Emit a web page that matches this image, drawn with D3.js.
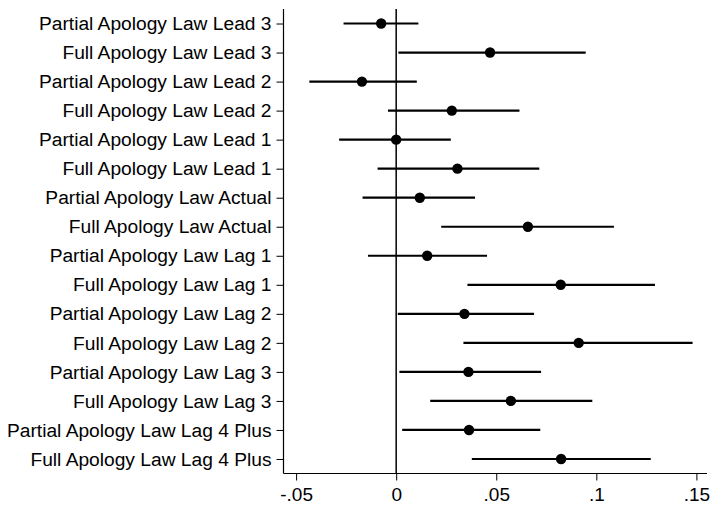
<!DOCTYPE html>
<html>
<head>
<meta charset="utf-8">
<script src="https://cdn.jsdelivr.net/npm/d3@7"></script>
<style>
  html, body { margin: 0; padding: 0; background: #fff; }
  svg { display: block; }
  text { font-family: "Liberation Sans", Arial, Helvetica, sans-serif; fill: #000; }
</style>
</head>
<body>
<div id="chart"></div>
<script>
const categories = [
  "Partial Apology Law Lead 3",
  "Full Apology Law Lead 3",
  "Partial Apology Law Lead 2",
  "Full Apology Law Lead 2",
  "Partial Apology Law Lead 1",
  "Full Apology Law Lead 1",
  "Partial Apology Law Actual",
  "Full Apology Law Actual",
  "Partial Apology Law Lag 1",
  "Full Apology Law Lag 1",
  "Partial Apology Law Lag 2",
  "Full Apology Law Lag 2",
  "Partial Apology Law Lag 3",
  "Full Apology Law Lag 3",
  "Partial Apology Law Lag 4 Plus",
  "Full Apology Law Lag 4 Plus"
];
const estimates = [-0.0075, 0.0469, -0.0171, 0.0278, 0.0000, 0.0306, 0.0118, 0.0658,
                   0.0155, 0.0822, 0.0341, 0.0912, 0.0361, 0.0573, 0.0364, 0.0824];
const lower     = [-0.0263, 0.0011, -0.0434, -0.0041, -0.0285, -0.0093, -0.0168, 0.0225,
                   -0.0141, 0.0356, 0.0008, 0.0336, 0.0016, 0.0170, 0.0030, 0.0378];
const upper     = [0.0111, 0.0947, 0.0103, 0.0616, 0.0273, 0.0715, 0.0394, 0.1088,
                   0.0454, 0.1293, 0.0689, 0.1481, 0.0724, 0.0980, 0.0720, 0.1272];
const xTicks = [-0.05, 0, 0.05, 0.1, 0.15];
const xTickLabels = ["-.05", "0", ".05", ".1", ".15"];

(function () {
const W = 710, H = 509;
const pLeft = 283.5, pRight = 707, pTop = 9, pBottom = 473.5;

const svg = d3.select("#chart").append("svg").attr("width", W).attr("height", H);

const x = d3.scaleLinear().domain([-0.0563, 0.1553]).range([pLeft, pRight]);
const y = d3.scalePoint().domain(categories).range([pTop, pBottom]).padding(0.5);

const rows = categories.map((c, i) => ({ c, est: estimates[i], lo: lower[i], hi: upper[i] }));

// zero reference line
svg.append("line")
  .attr("x1", x(0)).attr("x2", x(0))
  .attr("y1", pTop).attr("y2", pBottom)
  .attr("stroke", "#000").attr("stroke-width", 1.5);

// confidence intervals
svg.append("g").selectAll("line").data(rows).join("line")
  .attr("x1", d => x(d.lo)).attr("x2", d => x(d.hi))
  .attr("y1", d => y(d.c)).attr("y2", d => y(d.c))
  .attr("stroke", "#000").attr("stroke-width", 2.2);

// point estimates
svg.append("g").selectAll("circle").data(rows).join("circle")
  .attr("cx", d => x(d.est)).attr("cy", d => y(d.c))
  .attr("r", 5.2).attr("fill", "#000");

// y axis
const yAxis = d3.axisLeft(y).tickSize(7).tickPadding(5);
const gy = svg.append("g").attr("transform", `translate(${pLeft},0)`).call(yAxis);
gy.select(".domain").remove();
gy.selectAll(".tick line").attr("stroke", "#000");
gy.selectAll(".tick text").attr("font-size", "19.2px").attr("fill", "#000");
svg.append("line").attr("x1", pLeft).attr("x2", pLeft).attr("y1", pTop).attr("y2", pBottom)
  .attr("stroke", "#000").attr("stroke-width", 1.2);

// x axis
const xAxis = d3.axisBottom(x).tickValues(xTicks)
  .tickFormat((d, i) => xTickLabels[i]).tickSize(7).tickPadding(7);
const gx = svg.append("g").attr("transform", `translate(0,${pBottom})`).call(xAxis);
gx.select(".domain").remove();
gx.selectAll(".tick line").attr("stroke", "#000");
gx.selectAll(".tick text").attr("font-size", "19px").attr("fill", "#000");
svg.append("line").attr("x1", pLeft).attr("x2", pRight).attr("y1", pBottom).attr("y2", pBottom)
  .attr("stroke", "#000").attr("stroke-width", 1.2);
})();
</script>
</body>
</html>
